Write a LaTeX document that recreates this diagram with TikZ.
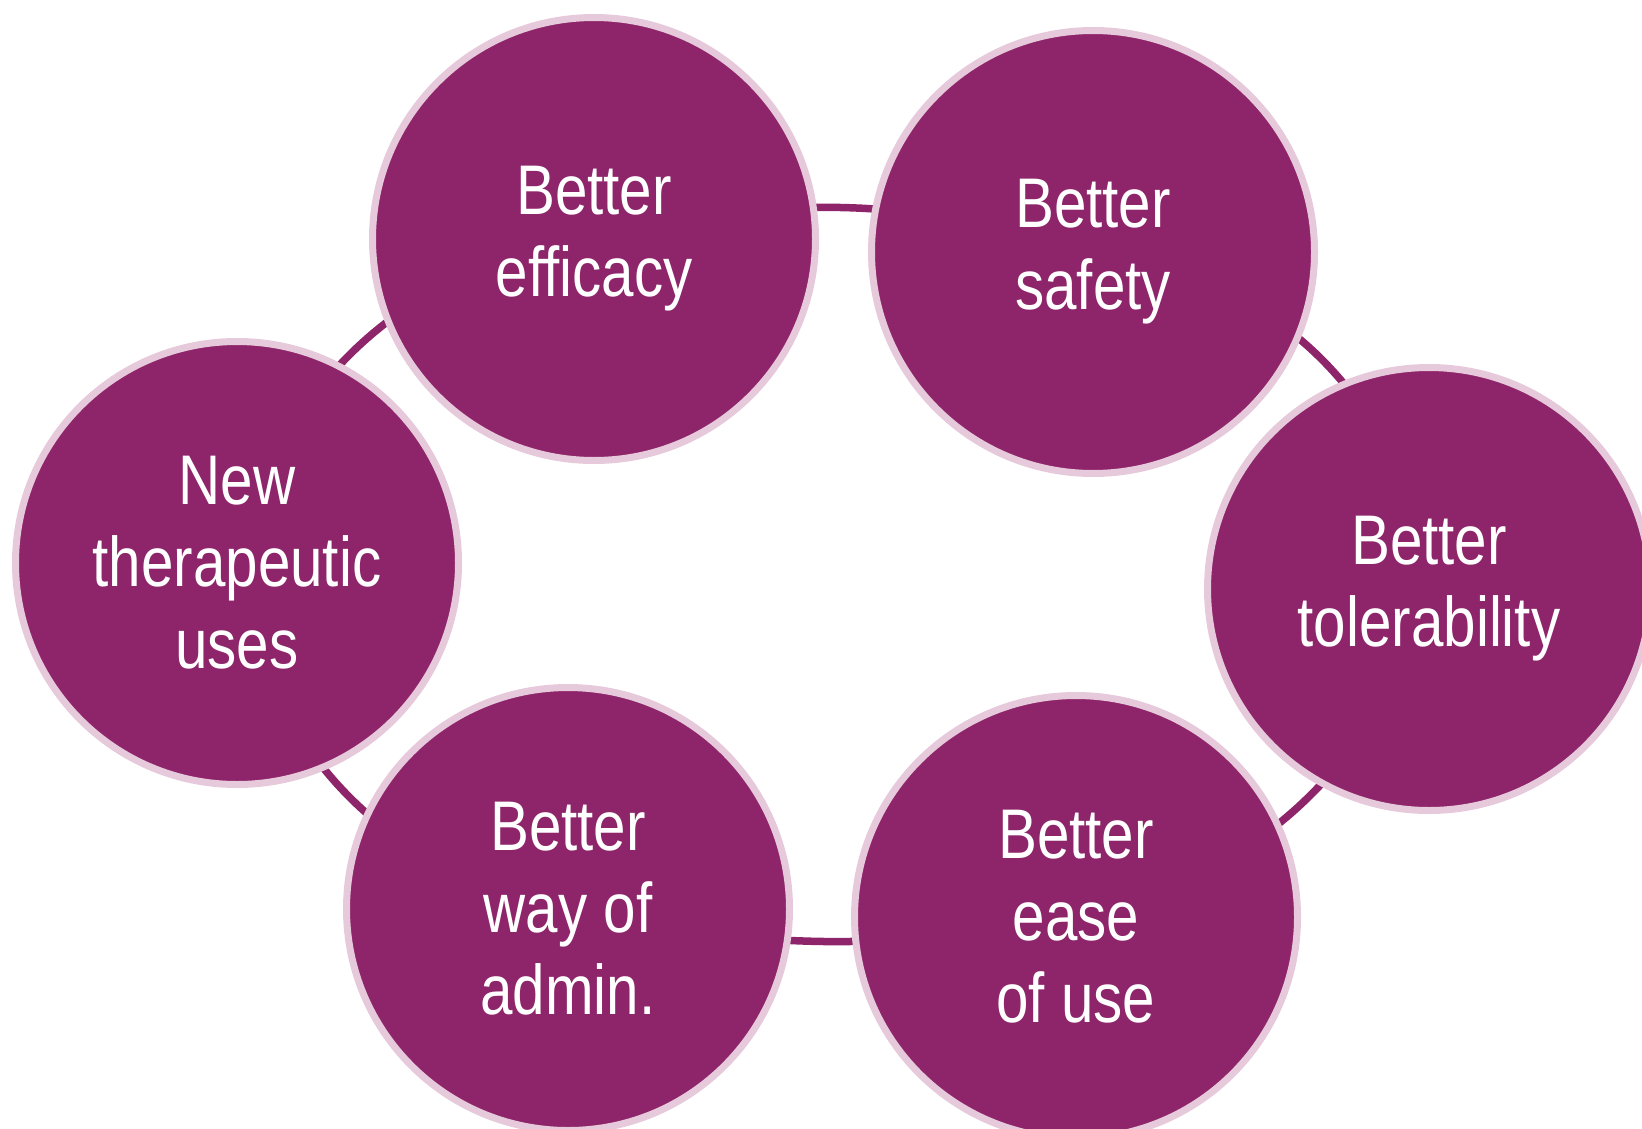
\documentclass[tikz,border=0pt]{standalone}
\usepackage{fontspec}
\setmainfont{Liberation Sans}[FakeStretch=0.83]
\usetikzlibrary{positioning, backgrounds}

\definecolor{plum}{RGB}{142,37,106}
\definecolor{pinkrim}{RGB}{230,201,218}

\begin{document}
\begin{tikzpicture}
            [x=0.1mm, y=0.1mm,
            bubble/.style={
                circle,
                draw=pinkrim,
                line width=0.7mm,
                fill=plum,
                text=white,
                align=center,
                inner sep=0pt,
                minimum size=44.3mm,
                font=\fontsize{20}{23.3}\selectfont
            },
            ring/.style={
                draw=plum, line width=0.75mm
            }
            ]

            \useasboundingbox (0,0) rectangle (1642,-1128);
            \clip (0,0) rectangle (1642,-1128);

            % Benefit circles
            \node[bubble] (efficacy) at (594,-239) {Better\\efficacy};
            \node[bubble] (safety) at (1093,-252) {Better\\safety};
            \node[bubble] (tolerability) at (1429,-589) {Better\\tolerability};
            \node[bubble] (easeofuse) at (1076,-917) {Better\\ease\\of use};
            \node[bubble] (admin) at (568,-909) {Better\\way of\\admin.};
            \node[bubble] (newuses) at (237,-563) {New\\therapeutic\\uses};

            % Ring behind the circles
            \begin{scope}[on background layer]
                \path [ring] (efficacy.center) to[bend left=15] (safety.center);
                \path [ring] (safety.center) to[bend left=38] (tolerability.center);
                \path [ring] (tolerability.center) to[bend left=30] (easeofuse.center);
                \path [ring] (easeofuse.center) to[bend left=11] (admin.center);
                \path [ring] (admin.center) to[bend left=35] (newuses.center);
                \path [ring] (newuses.center) to[bend left=34] (efficacy.center);
            \end{scope}
\end{tikzpicture}
\end{document}
